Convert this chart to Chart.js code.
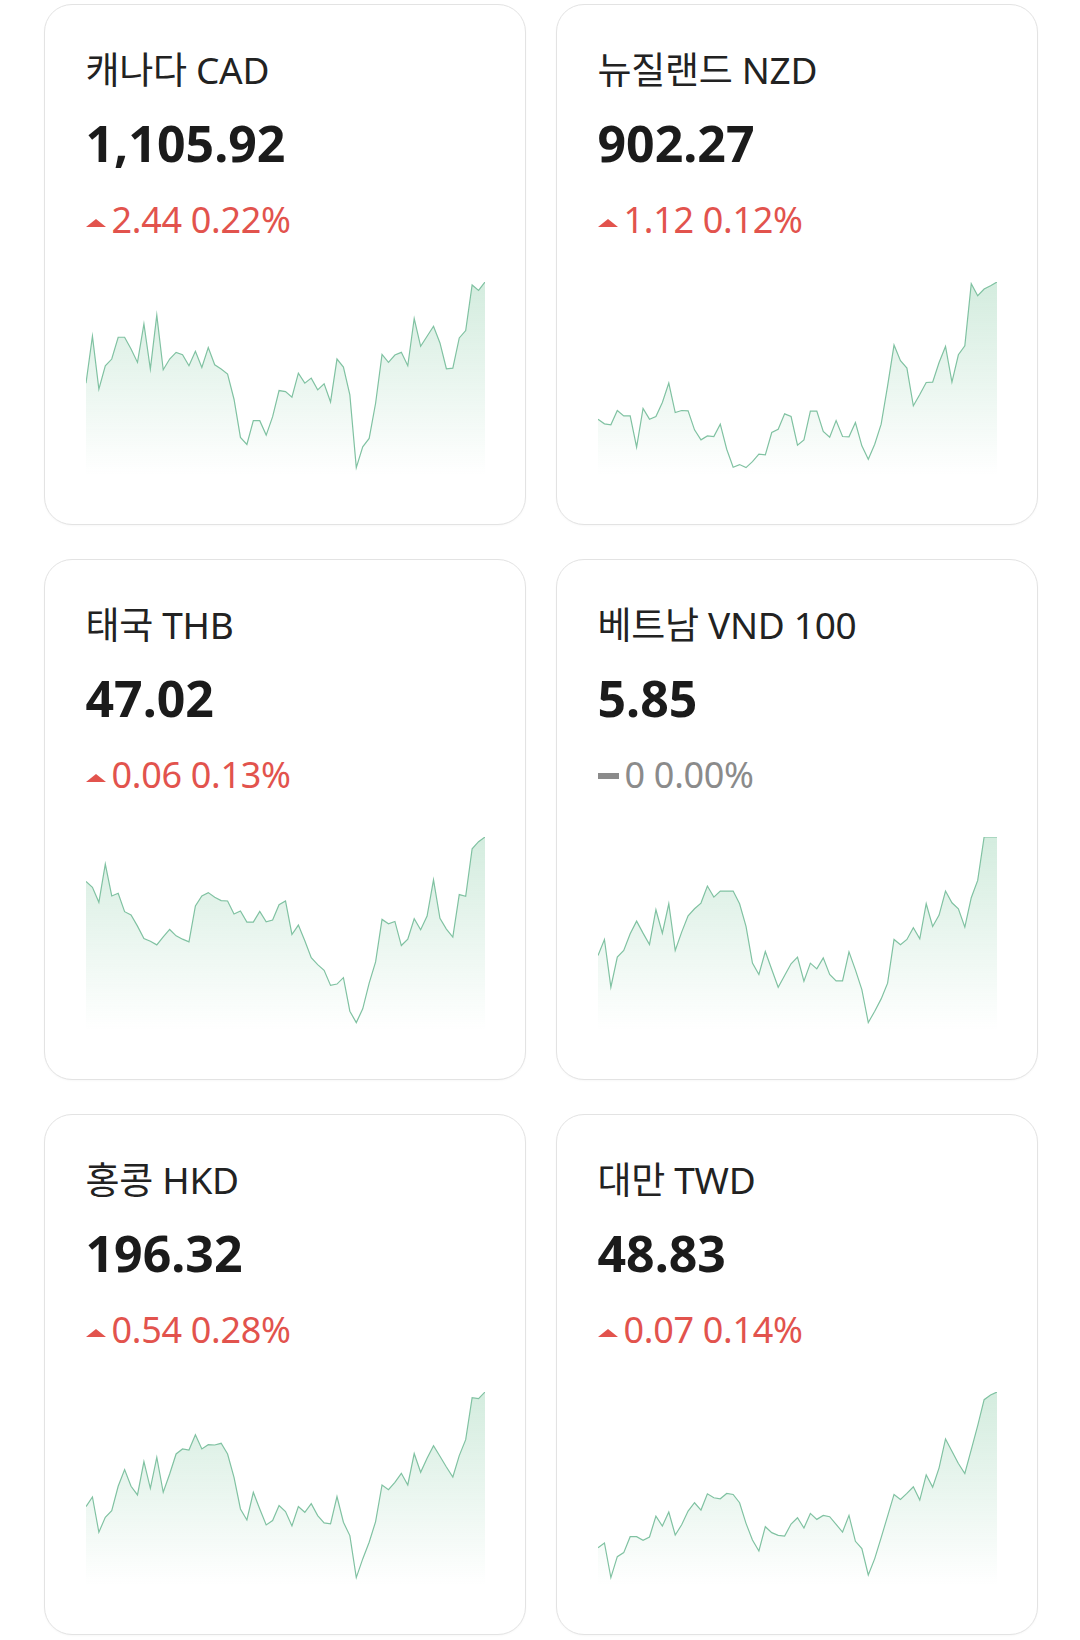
<!DOCTYPE html>
<html lang="ko">
<head>
    <meta charset="UTF-8">
    <title>환율</title>
    <script src="https://cdn.jsdelivr.net/npm/chart.js"></script>
    <style>
        html, body { margin: 0; padding: 0; background: #fff; }
        body { width: 1080px; height: 1640px; position: relative; font-family: "Noto Sans", "Noto Sans CJK KR", sans-serif; }
        .card { position: absolute; width: 482px; height: 521px; box-sizing: border-box; border: 1.5px solid #e3e3e3; border-radius: 28px; background: #fff; box-shadow: 0 1px 2px rgba(0,0,0,0.03); }
        .title { position: absolute; left: 40.5px; top: 39.5px; font-size: 37px; line-height: 50px; color: #222; white-space: nowrap; letter-spacing: -0.3px; }
        .price { position: absolute; left: 40.5px; top: 104.5px; font-size: 50px; line-height: 66px; font-weight: 700; color: #1b1b1b; white-space: nowrap; }
        .chg { position: absolute; left: 40.5px; top: 191px; font-size: 36px; line-height: 48px; color: #e2534d; white-space: nowrap; letter-spacing: -0.3px; }
        .chg.flat { color: #8b8b8b; }
        .mark { display: inline-block; vertical-align: middle; margin-right: 6px; }
        .up { width: 0; height: 0; border-left: 10px solid transparent; border-right: 10px solid transparent; border-bottom: 8px solid #e2534d; }
        .dash { width: 21px; height: 6px; background: #8b8b8b; position: relative; top: -2px; }
        canvas { position: absolute; left: 40.5px; top: 272.5px; }
    </style>
</head>
<body>
<script>
    // card texts
    const cardNames = ['캐나다 CAD', '뉴질랜드 NZD', '태국 THB', '베트남 VND 100', '홍콩 HKD', '대만 TWD'];
    const prices = ['1,105.92', '902.27', '47.02', '5.85', '196.32', '48.83'];
    const changes = ['2.44', '1.12', '0.06', '0', '0.54', '0.07'];
    const changePcts = ['0.22%', '0.12%', '0.13%', '0.00%', '0.28%', '0.14%'];
    const directions = ['up', 'up', 'up', 'flat', 'up', 'up'];

    // sparkline levels (no axis shown, relative heights)
    const cadLevels = [270,410,252,322,342,407,407,372,332,447, 312,473,310,342,362,355,322,365,317,376,
        325,312,297,222,108,87,158,158,115,170, 248,245,228,300,270,285,250,268,214,342,
        318,235,18,80,105,210,356,332,354,362, 322,463,380,410,440,390,313,315,405,427, 563,547,572];
    const nzdLevels = [162,148,145,188,172,172,78,194,162,170, 212,270,182,188,187,130,100,112,110,147,
        72,18,26,17,35,57,55,122,132,178, 170,84,100,186,186,125,108,158,110,109,
        152,82,42,87,147,262,384,337,315,202, 236,272,273,332,380,273,355,382,568,532, 552,562,573];
    const thbLevels = [455,438,393,507,412,420,365,355,322,285, 277,266,290,312,293,283,275,382,412,422,
        408,398,397,358,367,334,334,366,335,340, 386,397,297,325,278,228,207,190,145,149,
        168,68,34,75,152,215,342,329,336,264, 283,344,311,352,460,345,313,289,416,411, 553,574,588];
    const vndLevels = [235,283,140,230,250,300,338,302,268,372, 302,390,250,305,354,375,392,443,410,428,
        428,428,390,322,212,178,247,193,140,175, 210,230,158,212,195,228,178,159,159,246,
        192,133,34,68,105,152,283,267,283,318, 285,390,322,356,428,393,375,320,408,460, 590,590,590];
    const hkdLevels = [227,256,150,195,215,288,338,288,262,362, 282,375,270,325,385,400,397,443,400,413,
        412,417,385,315,220,187,270,220,172,185, 230,212,169,227,210,236,200,178,175,257,
        180,140,14,70,120,182,292,278,300,327, 292,386,330,372,410,378,346,316,380,428, 554,551,571];
    const twdLevels = [105,119,15,78,90,138,138,127,137,200, 170,212,143,174,215,240,218,267,255,252,
        268,265,240,178,128,95,168,150,142,140, 176,195,164,208,190,202,198,175,152,202,
        124,102,23,72,135,200,265,250,268,288, 248,324,287,345,432,395,358,328,400,472, 550,564,573];

    const allSeries = [cadLevels, nzdLevels, thbLevels, vndLevels, hkdLevels, twdLevels];

    const cardLefts = [44, 556];
    const cardTops = [4, 559, 1114];

    allSeries.forEach((series, i) => {
        const card = document.createElement('div');
        card.className = 'card';
        card.style.left = cardLefts[i % 2] + 'px';
        card.style.top = cardTops[Math.floor(i / 2)] + 'px';

        const mark = directions[i] === 'up' ? '<span class="mark up"></span>' : '<span class="mark dash"></span>';
        card.innerHTML = `
            <div class="title">${cardNames[i]}</div>
            <div class="price">${prices[i]}</div>
            <div class="chg ${directions[i] === 'flat' ? 'flat' : ''}">${mark}${changes[i]} ${changePcts[i]}</div>
            <canvas width="399" height="197"></canvas>
        `;
        document.body.appendChild(card);

        const lo = Math.min(...series);
        const hi = Math.max(...series);
        const ctx = card.querySelector('canvas').getContext('2d');
        new Chart(ctx, {
            type: 'line',
            data: {
                labels: series.map((_, k) => k),
                datasets: [{
                    data: series,
                    borderColor: '#80c2a2',
                    borderWidth: 1.2,
                    pointRadius: 0,
                    tension: 0,
                    fill: 'start',
                    backgroundColor: (c) => {
                        const area = c.chart.chartArea;
                        if (!area) return 'rgba(0,0,0,0)';
                        const g = c.chart.ctx.createLinearGradient(0, area.top, 0, area.bottom);
                        g.addColorStop(0, 'rgba(128,200,160,0.34)');
                        g.addColorStop(1, 'rgba(128,200,160,0)');
                        return g;
                    }
                }]
            },
            options: {
                responsive: false,
                animation: false,
                layout: { padding: { top: 4, left: 0, right: 0, bottom: 0 } },
                plugins: { legend: { display: false }, tooltip: { enabled: false } },
                scales: {
                    x: { display: false },
                    y: { display: false, min: lo - (hi - lo) * 0.04, max: hi }
                }
            }
        });
    });
</script>
</body>
</html>
